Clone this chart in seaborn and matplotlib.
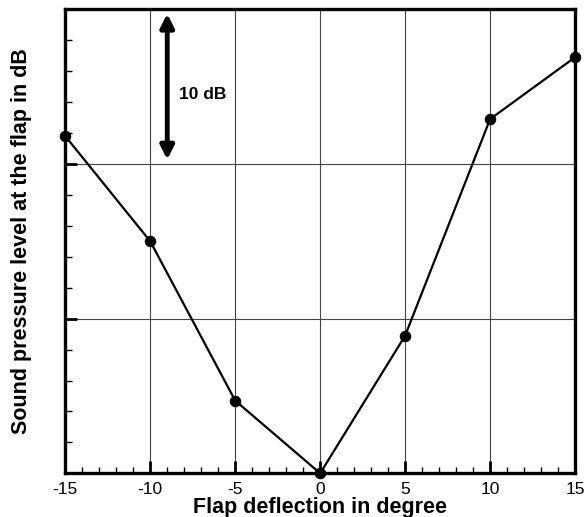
import matplotlib
matplotlib.use("Agg")
import matplotlib.pyplot as plt
import seaborn as sns
import pandas as pd
from matplotlib.ticker import MultipleLocator, NullFormatter

deflection = [-15, -10, -5, 0, 5, 10, 15]
spl_rel = [21.8, 15.0, 4.7, 0.0, 8.9, 22.9, 26.9]
xticks = [-15, -10, -5, 0, 5, 10, 15]

sns.set_style("ticks")
plt.rcParams['font.family'] = ['Liberation Sans', 'DejaVu Sans']
plt.rcParams['text.color'] = 'black'
plt.rcParams['axes.labelcolor'] = 'black'
plt.rcParams['xtick.color'] = 'black'
plt.rcParams['ytick.color'] = 'black'

df = pd.DataFrame({"x": deflection, "y": spl_rel})

fig = plt.figure(figsize=(5.85, 5.17), dpi=100)
ax = fig.add_axes([0.1116, 0.0845, 0.8714, 0.8975])

sns.lineplot(data=df, x="x", y="y", ax=ax, color="black", linewidth=1.6,
             marker="o", markersize=7.5, markeredgecolor="black", clip_on=False, zorder=5)

ax.set_xlim(-15, 15)
ax.set_ylim(0, 30)
ax.set_xticks(xticks)
ax.set_xticklabels([str(t) for t in xticks], fontsize=12.5)
ax.xaxis.set_minor_locator(MultipleLocator(1))
ax.yaxis.set_major_locator(MultipleLocator(10))
ax.yaxis.set_minor_locator(MultipleLocator(2))
ax.yaxis.set_major_formatter(NullFormatter())

ax.grid(True, which="major", color="#444444", linewidth=0.8)
ax.set_axisbelow(True)

ax.tick_params(axis="both", which="major", direction="in", length=8.5, width=2, pad=6)
ax.tick_params(axis="x", which="minor", direction="in", length=4, width=1)
ax.tick_params(axis="y", which="minor", direction="in", length=5, width=1)
ax.tick_params(top=False, right=False)

for s in ax.spines.values():
    s.set_linewidth(2.4)
    s.set_color("black")

ax.set_xlabel("Flap deflection in degree", fontsize=15.5, fontweight="bold")
ax.xaxis.label.set_va("baseline")
ax.xaxis.set_label_coords(0.5, -0.085)
ax.set_ylabel("Sound pressure level at the flap in dB", fontsize=15.5, fontweight="bold", labelpad=18)

ax.annotate("", xy=(-9, 29.9), xytext=(-9, 20.1),
            arrowprops=dict(arrowstyle="<|-|>", color="black", lw=3.5, mutation_scale=20))
ax.text(-8.3, 24.5, "10 dB", fontsize=12.5, fontweight="bold", va="center", ha="left")

fig.savefig("out.png", dpi=100)
